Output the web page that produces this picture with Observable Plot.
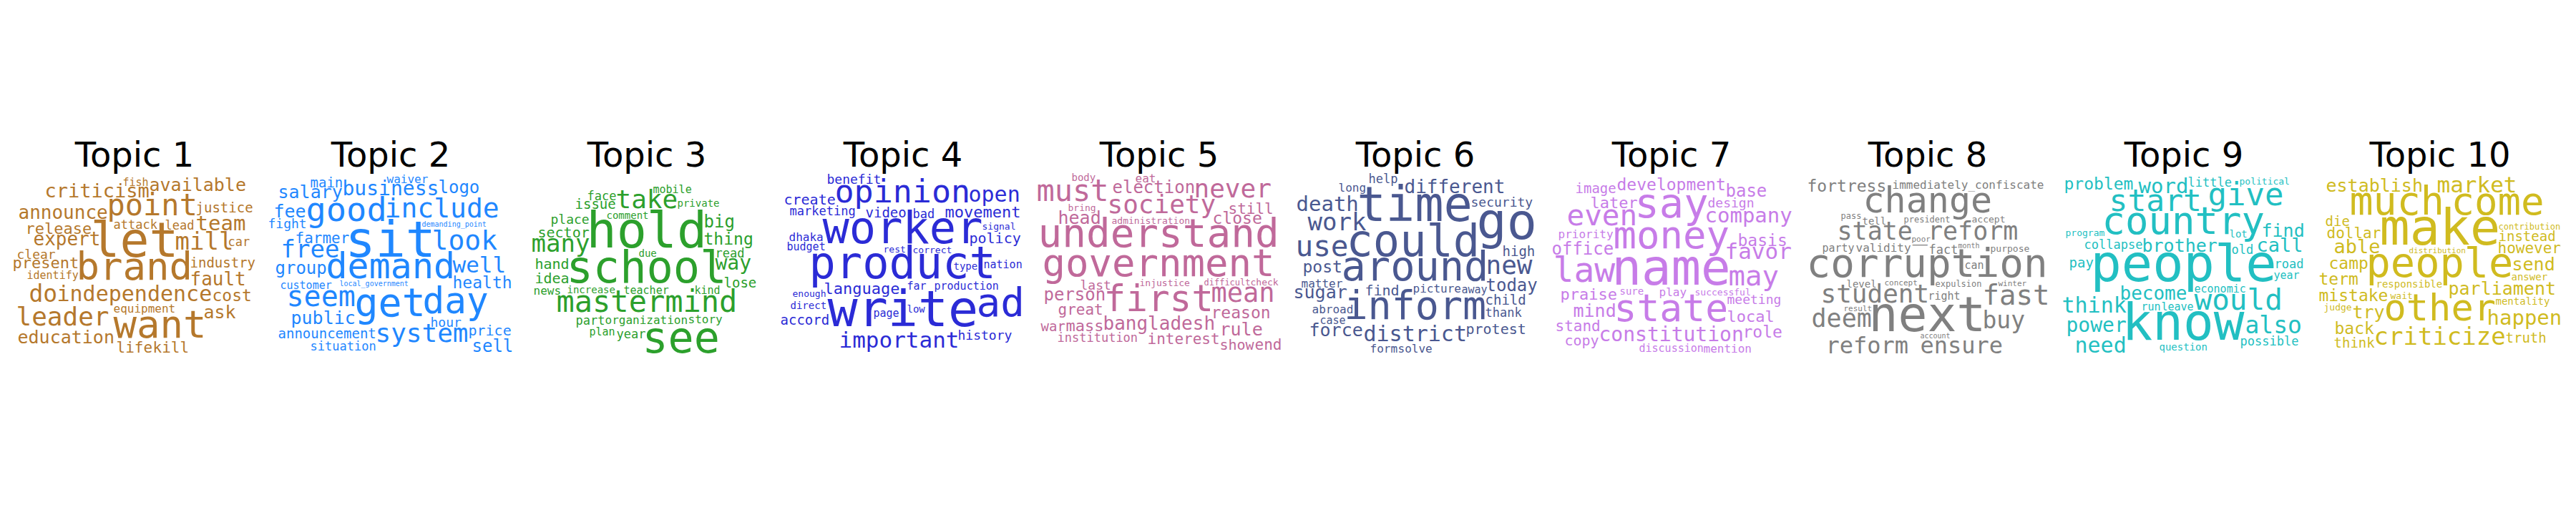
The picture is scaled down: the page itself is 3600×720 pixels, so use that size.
<!DOCTYPE html>
<html>
<head>
<meta charset="utf-8">
<script src="https://cdn.jsdelivr.net/npm/d3@7"></script>
<script src="https://cdn.jsdelivr.net/npm/@observablehq/plot@0.6"></script>
<style>body{margin:0;background:#fff}</style>
</head>
<body>
<div id="chart"></div>
<script>
// ---- DATA ----
const topics = ["Topic 1","Topic 2","Topic 3","Topic 4","Topic 5","Topic 6","Topic 7","Topic 8","Topic 9","Topic 10"];

const words1 = ["let","brand","want","point","leader","mill","independence","do","criticism","team","announce","expert","fault","education","available","release","present","cost","ask","life","kill","justice","industry","clear","car","lead","attack","equipment","identify","fish"];
const weights1 = [68,54,54,42,36,34,30,33,27,29,26,26,26,25,25,22,22,23,25,21,21,19,19,18,17,17,17,16,15,15];

const words2 = ["sit","good","get","day","demand","seem","include","look","system","free","well","business","public","salary","fee","logo","group","sell","health","price","farmer","announcement","main","fight","situation","hour","waiver","customer","local_government","demanding_point"];
const weights2 = [70,47,55,51,50,40,38,38,36,34,31,28,25,25,25,24,24,24,23,21,21,19,19,19,17,18,16,15,10,10];

const words3 = ["hold","see","school","mastermind","take","many","way","thing","big","hand","idea","sector","issue","lose","place","part","year","read","face","organization","story","news","teacher","mobile","kind","comment","increase","private","plan","due"];
const weights3 = [70,66,62,42,36,34,28,23,24,20,20,20,19,19,18,17,17,17,17,16,16,16,15,15,15,14,14,14,15,14];

const words4 = ["write","worker","product","ad","opinion","important","open","language","movement","marketing","policy","create","video","accord","history","benefit","bad","dhaka","production","far","page","budget","nation","low","type","direct","correct","enough","signal","rest"];
const weights4 = [70,62,62,56,45,31,30,27,25,20,20,20,19,19,18,18,17,16,15,15,15,15,15,14,14,14,13,13,13,13];

const words5 = ["understand","government","first","must","never","mean","society","bangladesh","head","rule","election","end","close","reason","person","mass","great","interest","last","show","war","still","institution","eat","administration","check","bring","injustice","difficult","body"];
const weights5 = [56,54,51,42,36,37,36,26,25,25,24,23,23,23,24,22,21,21,20,20,20,21,17,16,13,13,13,13,12,14];

const words6 = ["go","time","could","around","inform","use","new","work","district","death","different","force","sugar","today","post","protest","find","child","high","security","thank","help","solve","abroad","picture","matter","form","long","case","away"];
const weights6 = [70,67,62,57,55,41,36,34,30,29,26,25,25,24,23,20,20,19,19,18,17,17,16,16,16,16,16,16,15,15];

const words7 = ["name","say","money","state","law","even","may","favor","company","constitution","mind","office","base","basis","later","development","role","praise","local","stand","image","copy","meeting","design","mention","priority","play","discussion","successful","sure"];
const weights7 = [69,57,54,53,48,41,39,33,29,28,25,24,24,23,22,23,23,22,22,21,19,20,18,18,16,16,16,15,13,14];

const words8 = ["next","corruption","change","fast","student","ensure","reform","state_reform","deem","buy","fortress","immediately_confiscate","fact","validity","right","party","can","level","tell","accept","purpose","expulsion","president","pass","poor","concept","winter","result","month","account"];
const weights8 = [68,57,50,48,43,37,36,35,35,33,29,16,17,16,15,15,15,14,14,13,13,12,12,12,11,11,11,11,10,10];

const words9 = ["people","know","country","start","give","think","would","also","become","need","word","problem","power","brother","call","find","pay","collapse","road","possible","little","old","leave","year","question","run","economic","lot","program","political"];
const weights9 = [72,71,54,43,44,35,41,33,31,30,30,29,28,28,27,25,19,17,17,17,17,17,15,15,14,15,15,14,13,13];

const words10 = ["make","people","much","come","other","criticize","market","happen","parliament","able","establish","send","try","camp","term","mistake","back","however","dollar","truth","die","think","instead","responsible","answer","mentality","contribution","judge","wait","distribution"];
const weights10 = [70,57,55,54,52,34,33,32,29,27,25,25,25,23,23,23,23,21,21,19,19,19,19,14,14,14,13,13,13,11];

const wordLists = [words1,words2,words3,words4,words5,words6,words7,words8,words9,words10];
const weightLists = [weights1,weights2,weights3,weights4,weights5,weights6,weights7,weights8,weights9,weights10];

// ---- STYLE ----
const topicColors = ["#b5782c","#1f87ff","#2ca02c","#2b2bd6","#c0699a","#4a5890","#c77ce8","#808080","#22bfc2","#d0bb1f"];
const wordFont = "DejaVu Sans Mono";

// ---- WORD CLOUD LAYOUT (greedy; box from ascender line, pixel occupancy) ----
const W = 345, H = 256, M = 2;
function layout(topic, words, weights) {
  const canvas = document.createElement("canvas");
  canvas.width = W; canvas.height = H;
  const ctx = canvas.getContext("2d", {willReadFrequently: true});
  ctx.fillStyle = "#000"; ctx.textBaseline = "alphabetic"; ctx.textAlign = "left";
  const occ = new Uint8Array(W * H);
  const S = new Int32Array((W + 1) * (H + 1));
  const rebuild = () => {
    for (let y = 0; y < H; y++) {
      let row = 0;
      for (let x = 0; x < W; x++) {
        row += occ[y * W + x];
        S[(y + 1) * (W + 1) + x + 1] = S[y * (W + 1) + x + 1] + row;
      }
    }
  };
  const box = (text, fs) => {
    ctx.font = `${fs}px "${wordFont}"`;
    const m = ctx.measureText(text);
    const R = Math.max(m.actualBoundingBoxRight, m.width);
    const A = m.fontBoundingBoxAscent || 0.928 * fs;
    const D = Math.max(0, m.actualBoundingBoxDescent);
    return {A, bw: Math.ceil(R) + M, bh: Math.ceil(A + D) + M};
  };
  rebuild();
  const areas = words.map((w, i) => { const b = box(w, weights[i]); return b.bw * b.bh; });
  const order = d3.range(words.length).sort((a, b) => areas[b] - areas[a]);
  const out = [];
  for (const i of order) {
    let fs = weights[i];
    while (fs >= 6) {
      const {A, bw, bh} = box(words[i], fs);
      let best = null, bestD = Infinity;
      for (let y = 0; y + bh <= H; y++) {
        for (let x = 0; x + bw <= W; x++) {
          const s = S[(y + bh) * (W + 1) + x + bw] - S[y * (W + 1) + x + bw] - S[(y + bh) * (W + 1) + x] + S[y * (W + 1) + x];
          if (s === 0) {
            const dx = (x + bw / 2 - W / 2) / W, dy = (y + bh / 2 - H / 2) / H;
            const d = dx * dx + dy * dy;
            if (d < bestD) { bestD = d; best = [x, y]; }
          }
        }
      }
      if (best) {
        const ox = best[0] + M / 2, oy = best[1] + M / 2 + A;
        ctx.fillText(words[i], ox, oy);
        const img = ctx.getImageData(best[0], best[1], bw, bh).data;
        for (let yy = 0; yy < bh; yy++)
          for (let xx = 0; xx < bw; xx++)
            if (img[(yy * bw + xx) * 4 + 3] > 0) occ[(best[1] + yy) * W + best[0] + xx] = 1;
        rebuild();
        out.push({topic, text: words[i], x: ox, y: oy, size: fs});
        break;
      }
      fs -= 1;
    }
  }
  return out;
}

const placed = topics.flatMap((t, i) => layout(t, wordLists[i], weightLists[i]));

const chart = Plot.plot({
  width: 3600,
  height: 720,
  marginLeft: 15,
  marginRight: 18,
  marginTop: 238,
  marginBottom: 226,
  style: {fontFamily: "DejaVu Sans", background: "white", color: "black"},
  facet: {marginTop: 0, marginRight: 0, marginBottom: 0, marginLeft: 0},
  fx: {domain: topics, paddingInner: 13 / 358, paddingOuter: 0, label: null},
  x: {domain: [0, W], axis: null},
  y: {domain: [0, H], reverse: true, axis: null},
  color: {domain: topics, range: topicColors},
  marks: [
    Plot.axisFx({anchor: "top", tickSize: 0, tickPadding: 6, fontSize: 48, label: null, fontFamily: "DejaVu Sans"}),
    Plot.text(placed, {
      fx: "topic", x: "x", y: "y", text: "text", fontSize: "size", fill: "topic",
      textAnchor: "start", lineAnchor: "bottom", fontFamily: wordFont
    })
  ]
});
document.getElementById("chart").appendChild(chart);
</script>
</body>
</html>
